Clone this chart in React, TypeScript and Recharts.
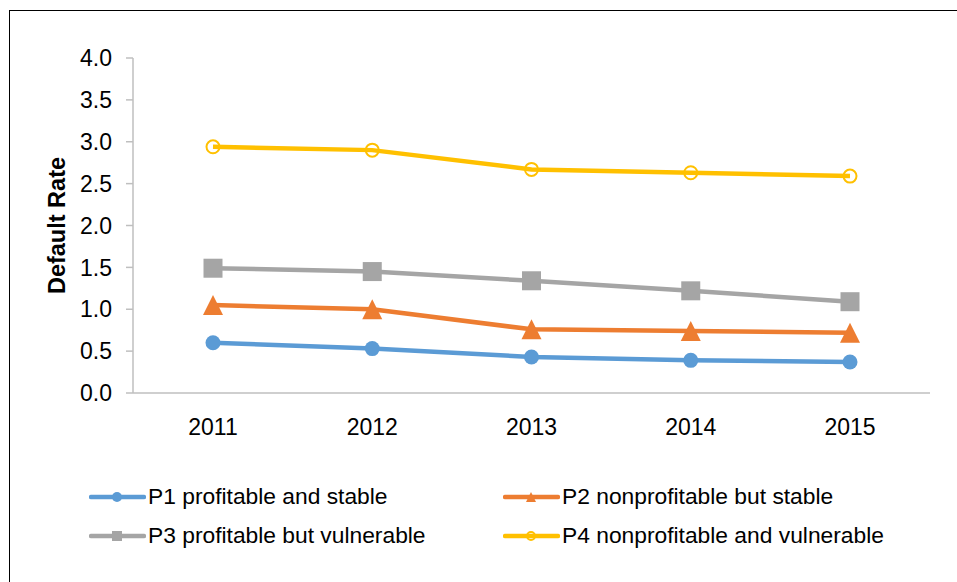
import React from 'react';
import { LineChart, Line, XAxis, YAxis } from 'recharts';

const years = ['2011', '2012', '2013', '2014', '2015'];
const p1 = [0.6, 0.53, 0.43, 0.39, 0.37];
const p2 = [1.05, 1.0, 0.76, 0.74, 0.72];
const p3 = [1.49, 1.45, 1.34, 1.22, 1.09];
const p4 = [2.94, 2.9, 2.67, 2.63, 2.59];
const yTicks = [0, 0.5, 1.0, 1.5, 2.0, 2.5, 3.0, 3.5, 4.0];

const seriesKeys = ['p1', 'p2', 'p3', 'p4'];
const seriesNames = [
  'P1 profitable and stable',
  'P2 nonprofitable but stable',
  'P3 profitable but vulnerable',
  'P4 nonprofitable and vulnerable',
];
const seriesColors = ['#5B9BD5', '#ED7D31', '#A5A5A5', '#FFC000'];

const data = years.map((y, i) => ({ year: y, p1: p1[i], p2: p2[i], p3: p3[i], p4: p4[i] }));

const FONT = '"Liberation Sans", Arial, sans-serif';

function Marker({ kind, cx, cy, big }: { kind: string; cx: number; cy: number; big: boolean }) {
  const c = seriesColors[seriesKeys.indexOf(kind)];
  if (kind === 'p1') return <circle cx={cx} cy={cy} r={big ? 7.5 : 5} fill={c} />;
  if (kind === 'p2') {
    const w = big ? 10 : 5;
    const h = big ? 10 : 5;
    return <polygon points={`${cx},${cy - h} ${cx + w},${cy + h} ${cx - w},${cy + h}`} fill={c} />;
  }
  if (kind === 'p3') {
    const s = big ? 9.5 : 5;
    return <rect x={cx - s} y={cy - s} width={2 * s} height={2 * s} fill={c} />;
  }
  return <circle cx={cx} cy={cy} r={big ? 6.5 : 4} fill="none" stroke={c} strokeWidth={2} />;
}

const makeDot = (kind: string) => (props: any) => {
  const { cx, cy, index } = props;
  return <Marker key={`${kind}-${index}`} kind={kind} cx={cx} cy={cy} big={true} />;
};

const ChartLegend = () => (
  <div
    style={{
      position: 'absolute',
      left: 89,
      top: 485,
      display: 'grid',
      gridTemplateColumns: '414px 380px',
      rowGap: 16,
      fontFamily: FONT,
      fontSize: 22.8,
      color: '#000',
    }}
  >
    {seriesKeys.map((k, i) => (
      <div key={k} style={{ display: 'flex', alignItems: 'center', height: 23 }}>
        <svg width={57} height={22} style={{ flex: 'none' }}>
          <line x1={2} y1={11} x2={55} y2={11} stroke={seriesColors[i]} strokeWidth={4.5} strokeLinecap="round" />
          <Marker kind={k} cx={28} cy={11} big={false} />
        </svg>
        <span style={{ marginLeft: 2, whiteSpace: 'nowrap' }}>{seriesNames[i]}</span>
      </div>
    ))}
  </div>
);

const YLabel = (props: any) => {
  const vb = props.viewBox || {};
  const x = vb.x + 37;
  const y = vb.y + vb.height / 2;
  return (
    <text
      x={x}
      y={y}
      transform={`rotate(-90, ${x}, ${y})`}
      textAnchor="middle"
      dominantBaseline="central"
      fontFamily={FONT}
      fontWeight="bold"
      fontSize={23.5}
      fill="#000"
    >
      Default Rate
    </text>
  );
};

export default function App() {
  return (
    <div style={{ position: 'absolute', left: 0, top: 0, width: 957, height: 582, background: '#fff', overflow: 'hidden' }}>
      <div
        style={{
          position: 'absolute',
          left: 9,
          top: 10,
          width: 960,
          height: 600,
          borderTop: '1.5px solid #000',
          borderLeft: '1.5px solid #000',
          boxSizing: 'border-box',
        }}
      />
      <LineChart
        width={957}
        height={582}
        data={data}
        margin={{ top: 58, right: 27, bottom: 159, left: 20 }}
        style={{ position: 'absolute', left: 0, top: 0 }}
      >
        <XAxis
          dataKey="year"
          axisLine={{ stroke: '#BFBFBF', strokeWidth: 1.5 }}
          tickLine={false}
          tickMargin={20}
          height={30}
          padding={{ left: 80, right: 80 }}
          tick={{ fontFamily: FONT, fontSize: 23, fill: '#000' }}
        />
        <YAxis
          domain={[0, 4]}
          ticks={yTicks}
          interval={0}
          width={113}
          axisLine={{ stroke: '#BFBFBF', strokeWidth: 1.5 }}
          tickLine={{ stroke: '#BFBFBF', strokeWidth: 1.5 }}
          tickSize={7}
          tickMargin={14}
          tickFormatter={(v: number) => v.toFixed(1)}
          tick={{ fontFamily: FONT, fontSize: 23, fill: '#000' }}
          label={<YLabel />}
        />
        {seriesKeys.map((k, i) => (
          <Line
            key={k}
            dataKey={k}
            name={seriesNames[i]}
            stroke={seriesColors[i]}
            strokeWidth={4.5}
            dot={makeDot(k)}
            activeDot={false}
            isAnimationActive={false}
          />
        ))}
      </LineChart>
      <ChartLegend />
    </div>
  );
}
